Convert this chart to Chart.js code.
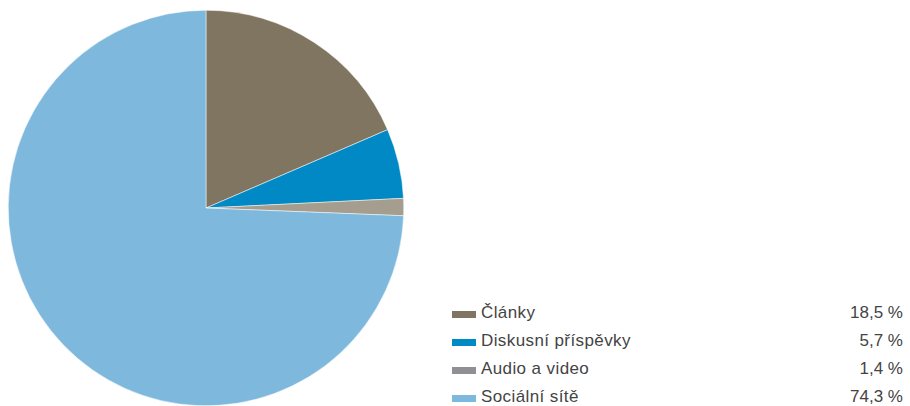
<!DOCTYPE html>
<html>
<head>
<meta charset="utf-8">
<script src="https://cdn.jsdelivr.net/npm/chart.js@4/dist/chart.umd.min.js"></script>
<style>
  html, body { margin: 0; padding: 0; background: #fff; }
  body { width: 910px; height: 406px; position: relative; overflow: hidden; font-family: "Liberation Sans", Arial, sans-serif; }
  #pieBox { position: absolute; left: 8px; top: 10px; width: 396px; height: 396px; }
  #legend { position: absolute; left: 452px; top: 304px; width: 451px; }
  .row { position: relative; height: 28px; font-size: 17px; line-height: 17px; color: #444; }
  .box { position: absolute; left: 0; top: 7px; width: 24px; height: 7px; }
  .lbl { position: absolute; left: 29px; top: 0; letter-spacing: 0.4px; }
  .val { position: absolute; right: 0; top: 0; }
</style>
</head>
<body>
<div id="pieBox"><canvas id="pie"></canvas></div>
<div id="legend"></div>
<script>
var categories = ['Články', 'Diskusní příspěvky', 'Audio a video', 'Sociální sítě'];
var shares = [18.5, 5.7, 1.4, 74.3];
var sliceColors = ['#7f7560', '#0089c4', '#a59e8e', '#7eb8dd'];
var legendColors = ['#7f7560', '#0089c4', '#909094', '#7eb8dd'];

// legend with right-aligned percentages
var legend = document.getElementById('legend');
categories.forEach(function(name, i) {
  var row = document.createElement('div');
  row.className = 'row';
  row.innerHTML = '<span class="box" style="background:' + legendColors[i] + '"></span>' +
    '<span class="lbl">' + name + '</span>' +
    '<span class="val">' + shares[i].toFixed(1).replace('.', ',') + ' %</span>';
  legend.appendChild(row);
});

new Chart(document.getElementById('pie'), {
  type: 'pie',
  data: {
    labels: categories,
    datasets: [{
      data: shares,
      backgroundColor: sliceColors,
      borderColor: '#ffffff',
      borderWidth: 0.5
    }]
  },
  options: {
    responsive: true,
    maintainAspectRatio: false,
    animation: false,
    layout: { padding: 0 },
    plugins: {
      legend: { display: false },
      tooltip: { enabled: false }
    }
  }
});
</script>
</body>
</html>
